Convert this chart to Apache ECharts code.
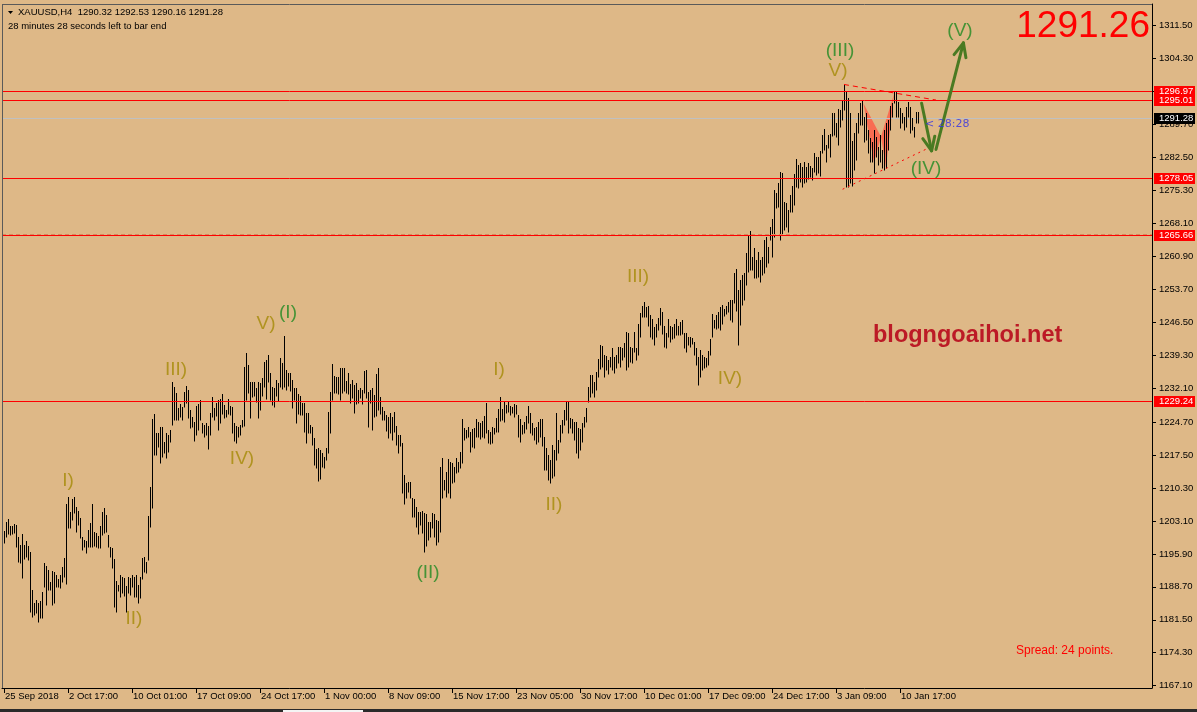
<!DOCTYPE html>
<html><head><meta charset="utf-8">
<script src="https://cdn.jsdelivr.net/npm/echarts@6/dist/echarts.min.js"></script>
<style>html,body{margin:0;padding:0;background:#DEB887;overflow:hidden}#c{width:1197px;height:712px}</style>
</head><body><div id="c"></div>
<script>
// ---- DATA ----
const barHighs = [
1200.9,1202.9,1203.5,1202.0,1202.0,1202.4,1202.2,1199.6,1197.8,1200.3,
1197.8,1198.7,1197.6,1196.3,1188.0,1185.2,1185.8,1185.2,1185.6,1187.6,
1193.9,1193.3,1192.4,1189.8,1192.2,1191.9,1191.3,1190.4,1191.3,1193.0,
1195.0,1206.8,1208.3,1205.1,1207.9,1208.3,1206.2,1205.3,1203.7,1199.6,
1199.0,1198.7,1201.1,1202.7,1206.8,1200.7,1200.5,1199.8,1202.0,1205.1,
1205.9,1204.4,1200.0,1197.4,1197.2,1194.8,1190.0,1189.1,1191.3,1190.9,
1190.6,1188.9,1190.9,1190.6,1191.3,1190.9,1191.3,1189.1,1190.9,1195.0,
1195.2,1194.1,1204.2,1210.5,1225.4,1226.5,1222.3,1222.3,1223.6,1223.6,
1220.4,1222.3,1221.9,1223.0,1233.5,1232.4,1231.1,1227.8,1228.7,1228.0,
1231.3,1232.6,1231.7,1227.4,1225.8,1224.7,1228.2,1228.7,1229.5,1224.5,
1224.1,1224.5,1223.9,1226.7,1230.2,1227.8,1228.9,1229.5,1229.8,1230.9,
1228.5,1227.4,1229.8,1228.2,1228.0,1224.5,1223.9,1223.6,1224.1,1225.2,
1236.7,1239.8,1237.2,1233.5,1233.5,1233.5,1232.2,1233.5,1233.2,1234.3,
1237.8,1238.3,1239.4,1235.4,1232.4,1232.2,1233.9,1233.2,1238.7,1237.6,
1243.5,1236.1,1235.4,1235.4,1233.9,1232.2,1232.2,1230.9,1230.4,1228.9,
1228.9,1226.7,1226.7,1224.1,1223.6,1221.2,1218.8,1219.0,1218.6,1218.0,
1217.1,1219.0,1226.9,1231.3,1237.4,1234.8,1234.6,1234.6,1236.5,1236.5,
1236.5,1233.7,1235.4,1233.0,1233.9,1232.8,1233.2,1231.7,1232.2,1231.7,
1235.9,1236.1,1231.3,1231.7,1232.2,1230.6,1235.2,1236.5,1230.2,1228.0,
1227.1,1226.3,1225.8,1226.7,1225.8,1226.9,1223.9,1221.9,1221.9,1220.1,
1213.1,1211.4,1211.6,1211.6,1208.1,1207.9,1206.2,1205.1,1205.1,1205.3,
1204.8,1204.6,1202.9,1202.9,1204.8,1204.6,1203.3,1203.1,1214.9,1216.9,
1212.1,1213.8,1216.6,1216.0,1215.8,1214.9,1216.9,1216.0,1218.2,1225.4,
1223.4,1223.0,1223.6,1222.5,1223.2,1223.4,1225.4,1224.7,1224.5,1224.9,
1226.0,1228.9,1223.0,1222.5,1223.6,1223.4,1225.6,1227.6,1230.2,1227.6,
1229.1,1228.5,1229.1,1228.2,1228.0,1228.7,1228.5,1226.3,1225.4,1224.1,
1224.7,1226.0,1228.2,1226.7,1224.5,1223.4,1223.6,1224.7,1225.4,1225.4,
1221.4,1219.0,1217.5,1216.4,1219.7,1218.6,1226.7,1220.8,1224.1,1225.2,
1227.4,1229.1,1229.1,1225.6,1225.4,1224.7,1224.7,1223.4,1223.2,1224.5,
1225.8,1227.8,1232.4,1235.0,1235.0,1233.5,1235.7,1238.5,1241.6,1241.3,
1239.4,1239.2,1238.3,1238.9,1240.9,1238.9,1239.4,1241.1,1241.1,1240.9,
1242.0,1244.4,1244.2,1241.1,1240.9,1244.4,1240.9,1246.1,1248.5,1250.1,
1251.0,1249.9,1250.1,1248.1,1247.2,1245.5,1246.1,1247.4,1249.6,1248.8,
1245.7,1244.2,1247.2,1245.7,1245.5,1246.1,1247.2,1245.7,1246.6,1247.0,
1244.2,1244.2,1243.3,1243.3,1243.1,1242.2,1240.9,1238.9,1240.5,1239.4,
1238.9,1238.7,1240.2,1242.9,1248.3,1247.0,1248.1,1248.8,1249.9,1250.3,
1249.4,1250.1,1251.0,1251.4,1251.4,1257.3,1258.2,1253.6,1255.8,1256.9,
1257.3,1261.6,1265.6,1266.5,1260.8,1262.8,1260.1,1261.9,1260.1,1260.8,
1264.5,1265.2,1263.0,1267.4,1269.0,1275.4,1274.8,1277.0,1279.4,1279.2,
1272.8,1272.6,1271.1,1274.4,1276.3,1278.9,1282.2,1280.9,1281.3,1280.5,
1281.6,1280.5,1281.3,1280.7,1280.2,1283.5,1282.7,1282.7,1284.0,1287.5,
1288.8,1285.3,1287.5,1287.7,1292.3,1292.3,1290.1,1293.1,1292.9,1295.1,
1298.4,1296.9,1295.5,1292.3,1286.1,1287.9,1290.1,1292.3,1294.4,1294.9,
1291.4,1292.3,1288.6,1286.8,1285.9,1288.6,1287.0,1284.8,1287.5,1284.2,
1288.6,1290.1,1290.7,1293.8,1294.4,1296.9,1296.9,1294.7,1293.4,1292.3,
1291.4,1293.6,1294.7,1293.6,1291.2,1289.2,1292.5,1292.53
];
const barLows = [
1198.3,1199.6,1200.3,1200.0,1200.3,1200.5,1197.4,1194.1,1193.9,1190.6,
1194.8,1195.2,1194.6,1183.2,1182.1,1182.6,1183.0,1181.0,1181.9,1181.9,
1188.7,1184.7,1188.0,1188.0,1184.7,1185.2,1188.7,1188.7,1188.4,1189.8,
1190.9,1189.3,1201.6,1201.6,1203.3,1204.8,1200.7,1202.2,1199.4,1196.8,
1197.4,1196.1,1197.4,1197.4,1197.4,1197.6,1197.4,1197.2,1197.2,1200.0,
1200.5,1200.7,1197.4,1195.2,1192.8,1184.3,1183.2,1187.8,1186.5,1187.4,
1186.7,1183.2,1187.4,1186.9,1188.7,1186.5,1186.5,1185.2,1186.3,1190.4,
1191.9,1191.7,1194.6,1201.8,1205.9,1217.5,1217.5,1219.3,1215.8,1217.1,
1218.0,1216.9,1218.2,1220.4,1224.1,1225.2,1225.2,1225.2,1225.8,1225.2,
1228.0,1228.9,1225.6,1223.4,1223.6,1220.6,1221.9,1223.0,1225.2,1222.3,
1221.4,1221.9,1218.8,1221.9,1225.8,1225.2,1226.0,1223.0,1224.5,1226.5,
1225.6,1225.8,1226.5,1226.3,1222.3,1220.6,1220.1,1221.4,1221.9,1223.6,
1223.9,1229.5,1231.1,1225.6,1230.2,1230.4,1229.1,1225.6,1227.4,1230.4,
1232.4,1229.8,1233.5,1229.5,1228.5,1228.0,1230.4,1229.3,1232.4,1232.0,
1232.4,1231.7,1232.6,1231.5,1227.8,1229.5,1224.5,1226.5,1226.3,1226.3,
1222.5,1220.1,1222.3,1222.3,1219.7,1215.3,1214.7,1211.8,1212.3,1215.0,
1214.7,1216.4,1218.0,1222.3,1229.5,1231.1,1231.1,1230.9,1229.5,1231.1,
1231.5,1231.1,1230.9,1228.9,1230.0,1226.7,1228.7,1228.9,1230.0,1228.7,
1231.1,1230.0,1223.6,1228.9,1223.0,1225.8,1226.0,1227.4,1226.5,1225.2,
1225.2,1222.8,1221.2,1222.3,1220.8,1222.5,1219.7,1218.0,1219.5,1209.2,
1206.8,1208.1,1209.4,1208.1,1204.0,1204.0,1201.8,1200.3,1202.2,1200.5,
1196.3,1197.6,1199.0,1199.6,1201.6,1199.6,1197.8,1198.5,1200.7,1208.1,
1209.9,1208.3,1209.2,1208.1,1211.4,1211.6,1213.6,1213.8,1214.7,1215.8,
1220.8,1221.2,1221.4,1218.2,1219.3,1219.0,1221.4,1221.4,1221.0,1221.4,
1221.2,1222.3,1220.1,1219.9,1220.1,1222.1,1222.5,1222.5,1224.9,1225.2,
1224.7,1226.7,1226.9,1226.3,1226.7,1225.8,1226.5,1221.4,1220.4,1222.1,
1222.3,1223.2,1224.5,1222.3,1221.9,1220.8,1219.9,1220.4,1221.4,1219.5,
1214.2,1214.2,1212.1,1211.4,1212.5,1213.0,1216.4,1218.0,1220.4,1222.3,
1224.1,1225.2,1222.3,1223.4,1222.3,1220.8,1218.0,1216.9,1218.6,1220.4,
1223.6,1224.7,1229.1,1230.2,1231.1,1230.2,1231.7,1234.6,1236.3,1236.7,
1234.6,1236.1,1235.2,1236.7,1236.1,1235.4,1236.5,1237.6,1236.7,1238.3,
1238.9,1236.1,1236.7,1237.8,1237.6,1240.0,1238.3,1239.4,1243.3,1247.6,
1247.6,1247.6,1245.7,1243.3,1242.9,1241.6,1243.3,1244.8,1245.9,1243.9,
1241.1,1240.9,1243.3,1242.2,1242.9,1243.1,1243.7,1243.7,1243.7,1243.9,
1240.9,1240.0,1241.6,1241.1,1241.8,1239.4,1237.2,1232.8,1234.6,1236.1,
1236.5,1236.7,1237.2,1239.4,1243.3,1245.3,1245.1,1245.3,1244.8,1246.1,
1247.9,1248.3,1248.8,1247.0,1246.6,1250.7,1249.0,1241.6,1245.9,1250.3,
1251.4,1254.7,1257.5,1257.9,1257.9,1256.2,1256.2,1256.4,1255.3,1256.9,
1257.3,1258.6,1259.5,1264.5,1260.8,1265.2,1271.5,1271.7,1264.5,1265.6,
1266.7,1267.4,1266.3,1270.6,1270.6,1272.2,1276.1,1275.9,1277.2,1276.1,
1277.0,1277.2,1277.8,1278.3,1277.6,1279.4,1278.7,1279.2,1278.5,1283.5,
1284.2,1281.6,1284.6,1282.7,1287.2,1287.5,1287.0,1285.3,1289.2,1290.7,
1292.9,1276.1,1276.1,1277.0,1276.3,1279.8,1282.0,1287.9,1289.6,1289.6,
1285.9,1286.4,1283.5,1281.6,1281.6,1279.2,1282.7,1280.9,1281.6,1280.2,
1279.8,1280.2,1284.2,1288.6,1291.4,1294.4,1291.4,1291.4,1289.0,1290.1,
1288.6,1289.2,1291.4,1287.9,1288.6,1287.0,1290.1,1290.16
];
const timeTickIndex = [0,32,64,96,128,160,192,224,256,288,320,352,384,416,448];
const timeTickLabels = ['25 Sep 2018','2 Oct 17:00','10 Oct 01:00','17 Oct 09:00','24 Oct 17:00','1 Nov 00:00','8 Nov 09:00','15 Nov 17:00','23 Nov 05:00','30 Nov 17:00','10 Dec 01:00','17 Dec 09:00','24 Dec 17:00','3 Jan 09:00','10 Jan 17:00'];
const priceTickValues = [1167.1,1174.3,1181.5,1188.7,1195.9,1203.1,1210.3,1217.5,1224.7,1232.1,1239.3,1246.5,1253.7,1260.9,1268.1,1275.3,1282.5,1289.7,1297.1,1304.3,1311.5];
const priceTickLabels = ['1167.10','1174.30','1181.50','1188.70','1195.90','1203.10','1210.30','1217.50','1224.70','1232.10','1239.30','1246.50','1253.70','1260.90','1268.10','1275.30','1282.50','1289.70','1297.10','1304.30','1311.50'];
const levelPrices = [1296.97,1295.01,1278.05,1265.66,1229.24];
const levelLabels = ['1296.97','1295.01','1278.05','1265.66','1229.24'];
const levelDashedTwin = [false,false,false,true,false];
const bidPrice = 1291.28;
const bidLabel = '1291.28';
const headerText = 'XAUUSD,H4  1290.32 1292.53 1290.16 1291.28';
const timerText = '28 minutes 28 seconds left to bar end';
const bigPriceText = '1291.26';
const spreadText = 'Spread: 24 points.';
const watermarkText = 'blogngoaihoi.net';
const countdownText = '< 28:28';
const countdownPos = [460.5, 1289.9];
// wave labels: bar index, price, text, kind (o = olive sub-wave, g = green main wave)
const waveX = [32,65,86,119,131,142,212,247.5,275,317,363,417,418,461,478];
const waveY = [1211.8,1181.7,1236.1,1216.6,1246.2,1248.6,1191.7,1236.1,1206.6,1256.4,1234.1,1301.4,1305.8,1280.0,1310.2];
const waveText = ['I)','II)','III)','IV)','V)','(I)','(II)','I)','II)','III)','IV)','V)','(III)','(IV)','(V)'];
const waveKind = ['o','o','o','o','o','g','g','o','o','o','o','o','g','g','g'];
// triangle (wedge) trend lines
const upperLineX = [420,466], upperLineY = [1298.5,1295.1];
const lowerLineX = [419.3,462.2], lowerLineY = [1275.6,1284.6];
// harmonic pattern XABCD
const harmX = [429.7,435,438.5,441,445];
const harmY = [1294.4,1281.4,1287.1,1280.4,1296.4];
// arrows (start -> end)
const arrowX1 = [458.8,466], arrowY1 = [1294.4,1284.3];
const arrowX2 = [463.8,479.7], arrowY2 = [1284.0,1307.6];

// ---- CHART ----
const FONT = '"Liberation Sans", Arial, sans-serif';
const chart = echarts.init(document.getElementById('c'), null, {renderer:'canvas', width:1197, height:712});
const barData = barHighs.map((h,i)=>[i, barLows[i], h]);
const olive = '#a48a06', green = '#1f8a22';

const option = {
  backgroundColor:'#DEB887',
  animation:false,
  grid:{left:2, right:45, top:4, bottom:24, show:false},
  xAxis:{
    type:'value', min:-1, max:574,
    axisLine:{show:true, onZero:false, lineStyle:{color:'#000', width:1}},
    axisTick:{show:true, customValues:timeTickIndex, length:5, lineStyle:{color:'#000'}},
    axisLabel:{customValues:timeTickIndex, formatter:v=>{const k=timeTickIndex.indexOf(v);return k>=0?timeTickLabels[k]:'';},
      align:'left', margin:3, fontSize:9.5, color:'#000', fontFamily:FONT, padding:[0,0,0,1]},
    splitLine:{show:false}
  },
  yAxis:{
    type:'value', position:'right', min:1166.59, max:1316.09,
    axisLine:{show:true, onZero:false, lineStyle:{color:'#000', width:1}},
    axisTick:{show:true, customValues:priceTickValues, length:4, lineStyle:{color:'#000'}},
    axisLabel:{customValues:priceTickValues, formatter:v=>{const k=priceTickValues.indexOf(v);return k>=0?priceTickLabels[k]:v.toFixed(2);},
      margin:7, fontSize:9.5, color:'#000', fontFamily:FONT},
    splitLine:{show:false}
  },
  series:[
    { // harmonic pattern triangles (behind bars)
      type:'custom', z:1, silent:true,
      data:[[0]],
      renderItem:(params, api)=>{
        const p = harmX.map((x,k)=>api.coord([x, harmY[k]]));
        return {type:'group', children:[
          {type:'polygon', shape:{points:[p[0],p[1],p[2]]}, style:{fill:'#f96d52'}},
          {type:'polygon', shape:{points:[p[2],p[3],p[4]]}, style:{fill:'#f96d52'}}
        ]};
      }
    },
    { // bid line (behind bars)
      type:'custom', z:1, silent:true,
      data:[[0,bidPrice]],
      renderItem:(params, api)=>{
        const cs = params.coordSys;
        const y = Math.round(api.coord([0, api.value(1)])[1]) + 0.5;
        return {type:'group', children:[
          {type:'line', shape:{x1:cs.x, y1:y, x2:cs.x+cs.width, y2:y}, style:{stroke:'#c0c0c0', lineWidth:1}},
          {type:'rect', shape:{x:cs.x+cs.width+2, y:y-5.5, width:41, height:11}, style:{fill:'#000'}},
          {type:'text', x:cs.x+cs.width+7, y:y, style:{text:bidLabel, fill:'#fff', font:'9.5px '+FONT, verticalAlign:'middle', align:'left'}}
        ]};
      }
    },
    { // OHLC bars (high-low strokes)
      type:'custom', z:3, silent:true,
      data:barData,
      renderItem:(params, api)=>{
        const lo = api.coord([api.value(0), api.value(1)]);
        const hi = api.coord([api.value(0), api.value(2)]);
        const x = Math.round(lo[0]) + 0.5;
        return {type:'line', shape:{x1:x, y1:Math.round(lo[1])+0.5, x2:x, y2:Math.round(hi[1])}, style:{stroke:'#000', lineWidth:1}};
      }
    },
    { // horizontal levels
      type:'custom', z:4, silent:true,
      data:levelPrices.map((p,k)=>[0,p,k]),
      renderItem:(params, api)=>{
        const cs = params.coordSys;
        const k = api.value(2);
        const y = Math.round(api.coord([0, api.value(1)])[1]) + 0.5;
        const ch = [];
        if (levelDashedTwin[k]) ch.push({type:'line', shape:{x1:cs.x, y1:y-1, x2:cs.x+cs.width, y2:y-1}, style:{stroke:'#d48a5c', lineWidth:1, lineDash:[4,3]}});
        ch.push({type:'line', shape:{x1:cs.x, y1:y, x2:cs.x+cs.width, y2:y}, style:{stroke:'#ff0000', lineWidth:1}});
        ch.push({type:'rect', shape:{x:cs.x+cs.width+2, y:y-5.5, width:41, height:11}, style:{fill:'#ff0000'}});
        ch.push({type:'text', x:cs.x+cs.width+7, y:y, style:{text:levelLabels[k], fill:'#fff', font:'9.5px '+FONT, verticalAlign:'middle', align:'left'}});
        return {type:'group', children:ch};
      }
    },
    { type:'line', z:5, silent:true, symbol:'none', data:upperLineX.map((x,k)=>[x,upperLineY[k]]),
      lineStyle:{color:'#ff0000', width:1, type:[5,4]} },
    { type:'line', z:5, silent:true, symbol:'none', data:lowerLineX.map((x,k)=>[x,lowerLineY[k]]),
      lineStyle:{color:'#ff0000', width:1, type:[2,4]} },
    { // arrows
      type:'custom', z:6, silent:true,
      data:arrowX1.map((x,k)=>[x,arrowY1[k],arrowX2[k],arrowY2[k]]),
      renderItem:(params, api)=>{
        const a = api.coord([api.value(0), api.value(1)]);
        const b = api.coord([api.value(2), api.value(3)]);
        const ang = Math.atan2(b[1]-a[1], b[0]-a[0]);
        const L = 15, s = 0.42;
        const h1 = [b[0]-L*Math.cos(ang-s), b[1]-L*Math.sin(ang-s)];
        const h2 = [b[0]-L*Math.cos(ang+s), b[1]-L*Math.sin(ang+s)];
        const st = {stroke:'#4a7a22', lineWidth:3, lineCap:'round', lineJoin:'round', fill:null};
        return {type:'group', children:[
          {type:'line', shape:{x1:a[0], y1:a[1], x2:b[0], y2:b[1]}, style:st},
          {type:'polyline', shape:{points:[h1,b,h2]}, style:st}
        ]};
      }
    },
    { // wave labels
      type:'scatter', z:7, silent:true, symbolSize:0,
      data:waveText.map((t,k)=>({value:[waveX[k],waveY[k]], name:t, label:{color: waveKind[k]==='g'?green:olive}})),
      label:{show:true, position:'inside', formatter:p=>p.name, fontSize:19, fontFamily:FONT}
    },
    { // countdown text
      type:'scatter', z:7, silent:true, symbolSize:0,
      data:[{value:countdownPos, name:countdownText}],
      label:{show:true, position:[0,0], align:'left', verticalAlign:'middle', formatter:p=>p.name, fontSize:11, color:'#2f2fe6', fontFamily:'"DejaVu Sans", sans-serif'}
    }
  ],
  graphic:[
    {type:'line', shape:{x1:2, y1:4.5, x2:1152, y2:4.5}, style:{stroke:'#5a5a5a', lineWidth:1}, z:10},
    {type:'line', shape:{x1:2.5, y1:4, x2:2.5, y2:688}, style:{stroke:'#5a5a5a', lineWidth:1}, z:10},
    {type:'rect', shape:{x:0, y:709, width:1197, height:3}, style:{fill:'#2a2a2a'}, z:10},
    {type:'rect', shape:{x:283, y:710, width:80, height:2}, style:{fill:'#f4f4f4'}, z:11},
    {type:'polygon', shape:{points:[[8,11],[13,11],[10.5,14]]}, style:{fill:'#000'}, z:10},
    {type:'text', x:18, y:12.5, style:{text:headerText, font:'9.5px '+FONT, fill:'#000', verticalAlign:'middle'}, z:10},
    {type:'text', x:8, y:26, style:{text:timerText, font:'9.5px '+FONT, fill:'#000', verticalAlign:'middle'}, z:10},
    {type:'text', x:1150, y:27, style:{text:bigPriceText, font:'37px '+FONT, fill:'#ff0000', align:'right', verticalAlign:'middle'}, z:10},
    {type:'text', x:1016, y:651, style:{text:spreadText, font:'12px '+FONT, fill:'#ff0000', verticalAlign:'middle'}, z:10},
    {type:'text', x:873, y:336, style:{text:watermarkText, font:'bold 23.5px '+FONT, fill:'#bc1a26', verticalAlign:'middle'}, z:10}
  ]
};
chart.setOption(option);
</script>
</body></html>
